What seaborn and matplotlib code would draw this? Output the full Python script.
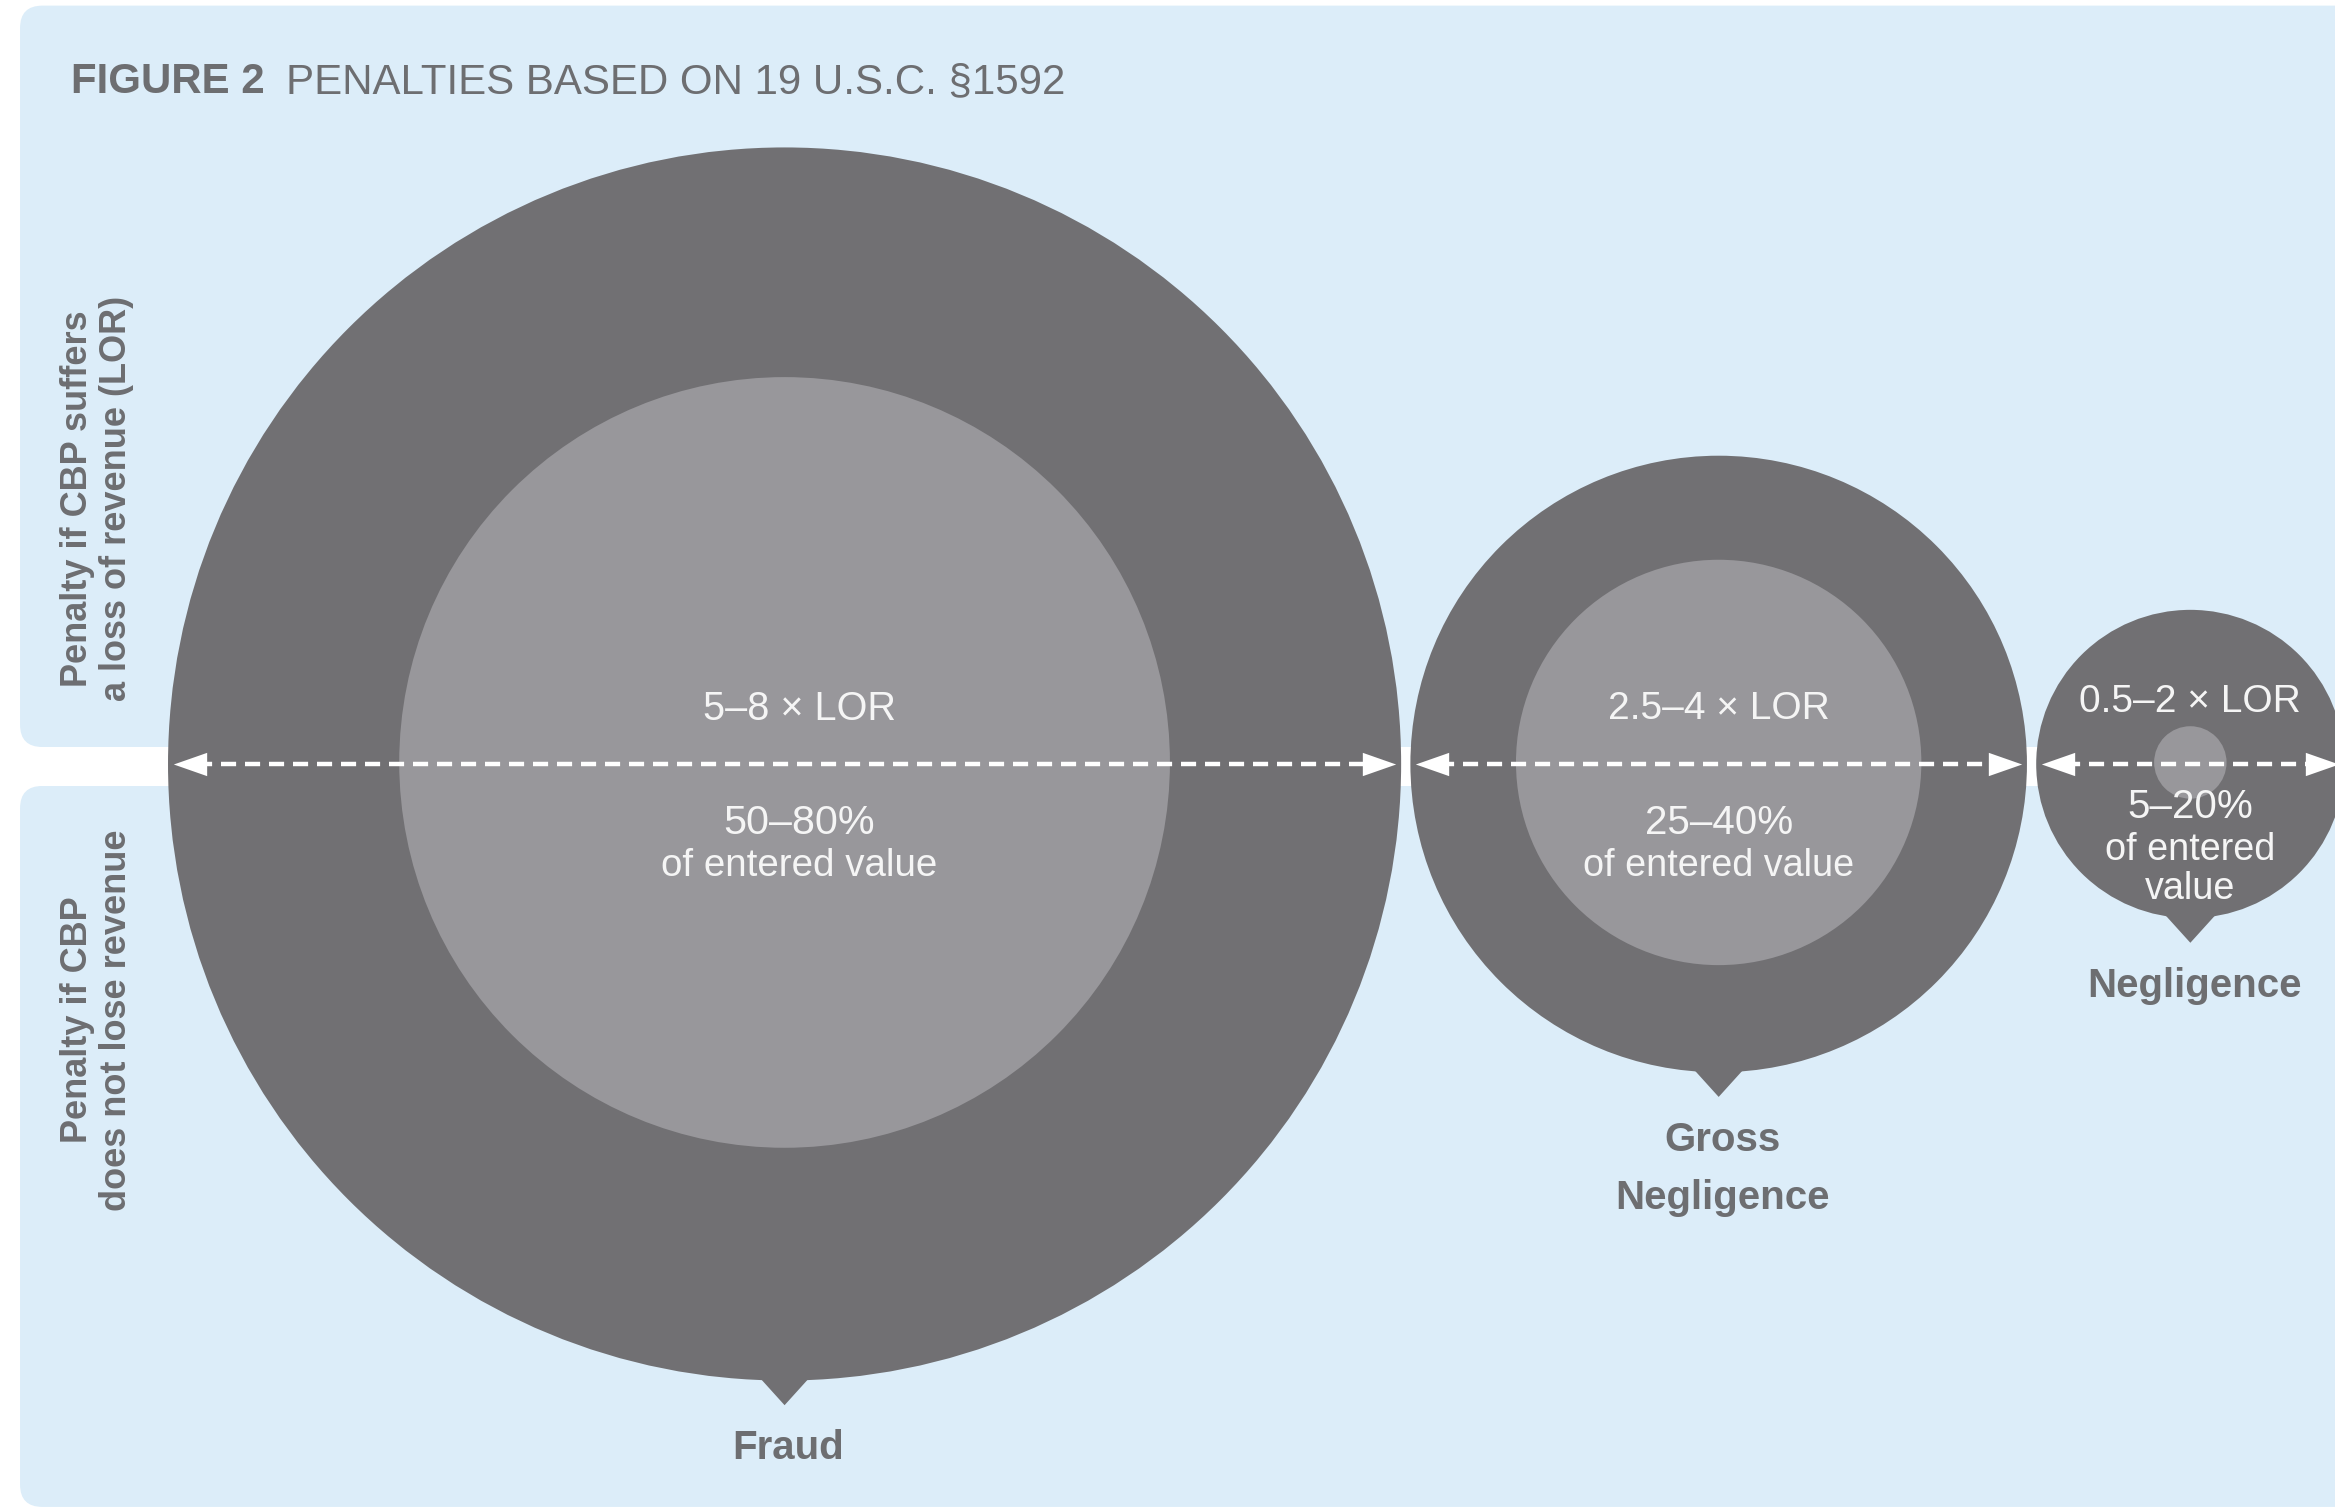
import pandas as pd
import seaborn as sns
import matplotlib.pyplot as plt
from matplotlib import font_manager
from matplotlib.patches import Circle, Polygon, FancyBboxPatch, Rectangle

# penalty tiers under 19 U.S.C. 1592 (outer radius = upper LOR multiple)
categories = ['Fraud', 'Gross\nNegligence', 'Negligence']
lor_high = [8, 4, 2]
inner_size = [5.0, 2.63, 0.47]   # inner circle radius as drawn
lor_labels = ['5–8 × LOR', '2.5–4 × LOR', '0.5–2 × LOR']
value_labels = ['50–80%', '25–40%', '5–20%']
value_notes = ['of entered value', 'of entered value', 'of entered\nvalue']

side_labels = ['Penalty if CBP suffers\na loss of revenue (LOR)',
               'Penalty if CBP\ndoes not lose revenue']

BG = '#dcedf9'
DARK = '#717073'
LIGHT = '#98979b'
TXT = '#6d6e71'
WHITE_TXT = '#f5f5f5'

sns.set_theme(style='white')
plt.rcParams['font.family'] = ['Liberation Sans', 'DejaVu Sans']
names = {f.name for f in font_manager.fontManager.ttflist}
narrow = 'Liberation Sans Narrow' if 'Liberation Sans Narrow' in names else 'Liberation Sans'
nscale = 1.0 if narrow.endswith('Narrow') else 0.84

fig = plt.figure(figsize=(23.35, 15.08), dpi=100)
fig.patch.set_facecolor('white')
ax = fig.add_axes([0, 0, 1, 1])
xmin, ymax = -2.18, 9.913
xmax = xmin + 30.297

# background panels and white band
ax.add_patch(FancyBboxPatch((-1.92, 0.22), 40, 9.62, boxstyle='round,pad=0,rounding_size=0.29',
                            fc=BG, ec='none', zorder=0))
ax.add_patch(FancyBboxPatch((-1.92, -9.64), 40, 9.355, boxstyle='round,pad=0,rounding_size=0.29',
                            fc=BG, ec='none', zorder=0))
ax.add_patch(Rectangle((xmin, -0.285), 40, 0.505, fc='white', ec='none', zorder=1))

# circle centres: packed left to right with a small gap
gap = 0.12
centers = []
pos = 0.0
for r in lor_high:
    pos += r
    centers.append(pos)
    pos += r + gap

line_rows = []
heads_l, heads_r = [], []
for i, (c, r_out, r_in) in enumerate(zip(centers, lor_high, inner_size)):
    ax.add_patch(Circle((c, 0), r_out, fc=DARK, ec='none', zorder=2))
    ax.add_patch(Polygon([(c - 0.38, -r_out + 0.1), (c + 0.38, -r_out + 0.1), (c, -r_out - 0.32)],
                         closed=True, fc=DARK, ec='none', zorder=2))
    ax.add_patch(Circle((c, 0.02), r_in, fc=LIGHT, ec='none', zorder=3))
    lt, rt = c - r_out + 0.07, c + r_out - 0.07
    line_rows += [dict(x=lt + 0.3, y=0.0, cat=categories[i]), dict(x=rt - 0.3, y=0.0, cat=categories[i])]
    heads_l.append(dict(x=lt + 0.216, y=0.0))
    heads_r.append(dict(x=rt - 0.216, y=0.0))

line_df = pd.DataFrame(line_rows)
sns.lineplot(data=line_df, x='x', y='y', units='cat', estimator=None, sort=False,
             color='white', linewidth=3.2, linestyle=(0, (3.4, 2.0)), ax=ax, zorder=4)
sns.scatterplot(data=pd.DataFrame(heads_l), x='x', y='y', marker=[(1, -0.7), (-1, 0), (1, 0.7)],
                s=24 ** 2, color='white', linewidth=0, ax=ax, zorder=5)
sns.scatterplot(data=pd.DataFrame(heads_r), x='x', y='y', marker=[(-1, -0.7), (1, 0), (-1, 0.7)],
                s=24 ** 2, color='white', linewidth=0, ax=ax, zorder=5)
ax.set_xlim(xmin, xmax)
ax.set_ylim(ymax - 19.567, ymax)
ax.axis('off')

# texts inside circles
for i, c in enumerate(centers):
    if i == 0:
        fam, fs, dx = narrow, 34 * nscale, 0.19
        ys = [0.715, -0.77, -1.33]
    elif i == 1:
        fam, fs, dx = 'Liberation Sans', 28, 0.0
        ys = [0.715, -0.77, -1.33]
    else:
        fam, fs, dx = 'Liberation Sans', 28, 0.0
        ys = [0.81, -0.56, -1.12, -1.62]
    ax.text(c + dx, ys[0], lor_labels[i], family=fam, fontsize=fs, color=WHITE_TXT,
            ha='center', va='center', zorder=6)
    ax.text(c + dx, ys[1], value_labels[i], family=fam, fontsize=fs * 1.04, color=WHITE_TXT,
            ha='center', va='center', zorder=6)
    for j, ln in enumerate(value_notes[i].split('\n')):
        ax.text(c + dx, ys[2 + j], ln, family=fam, fontsize=fs * 0.97, color=WHITE_TXT,
                ha='center', va='center', zorder=6)
    # category label under the pointer
    tip = -lor_high[i] - 0.32
    for j, ln in enumerate(categories[i].split('\n')):
        ax.text(c + 0.05, tip - 0.56 - j * 0.75, ln, fontsize=29, fontweight='bold', color=TXT,
                ha='center', va='center', zorder=6)

# side labels
ax.text(-0.92, 3.44, side_labels[0], rotation=90, fontsize=26, fontweight='bold', color=TXT,
        ha='center', va='center', multialignment='center', linespacing=1.15, zorder=6)
ax.text(-0.92, -3.32, side_labels[1], rotation=90, fontsize=26, fontweight='bold', color=TXT,
        ha='center', va='center', multialignment='center', linespacing=1.15, zorder=6)

# title
ax.text(-1.26, 8.85, 'FIGURE 2', family=narrow, fontsize=36 * nscale, fontweight='bold',
        color=TXT, ha='left', va='center', zorder=6)
ax.text(1.53, 8.85, 'PENALTIES BASED ON 19 U.S.C. §1592', family=narrow, fontsize=36 * nscale,
        color=TXT, ha='left', va='center', zorder=6)

fig.savefig('out.png', dpi=100, facecolor='white')
